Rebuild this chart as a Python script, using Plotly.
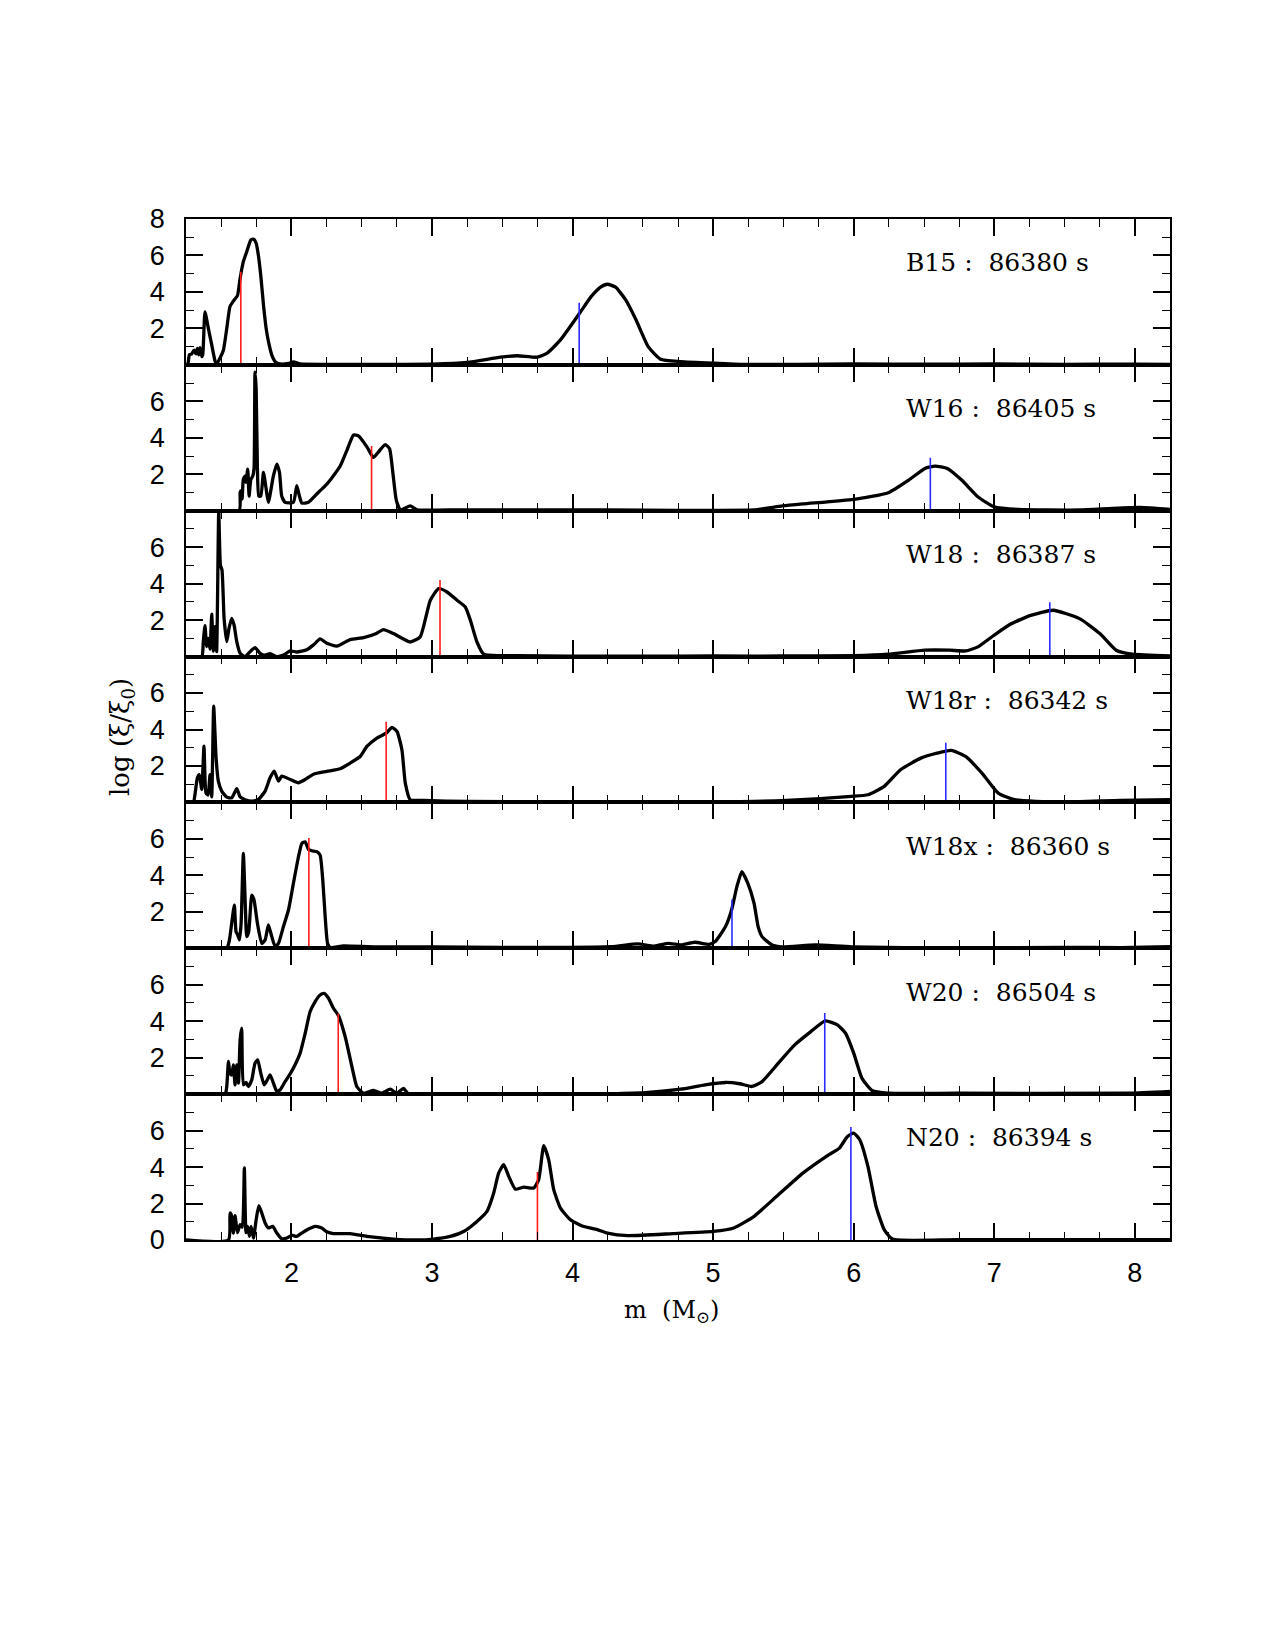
import plotly.graph_objects as go
from plotly.subplots import make_subplots

# ---------------- data ----------------
panel_names = ["B15", "W16", "W18", "W18r", "W18x", "W20", "N20"]
panel_times = ["86380", "86405", "86387", "86342", "86360", "86504", "86394"]

b15_m = [1.25, 1.262, 1.274, 1.290, 1.307, 1.321, 1.331, 1.340, 1.350, 1.362, 1.369, 1.385, 1.409, 1.433, 1.457,
         1.468, 1.492, 1.516, 1.540, 1.563, 1.587, 1.616, 1.635, 1.658, 1.682, 1.711, 1.730, 1.749, 1.765, 1.782,
         1.801, 1.820, 1.836, 1.860, 1.884, 1.920, 1.98, 2.014, 2.062, 2.3, 2.6, 3.0, 3.249, 3.487, 3.606, 3.748,
         3.819, 3.914, 4.05, 4.132, 4.199, 4.248, 4.306, 4.378, 4.451, 4.538, 4.625, 4.769, 5.0, 5.23, 5.6, 6.0,
         6.5, 7.0, 7.5, 8.0, 8.25]
b15_v = [0, 0, 0.55, 0.6, 0.8, 0.6, 0.9, 0.55, 0.95, 0.45, 0.55, 2.9, 2.0, 1.1, 0.2,
         0.05, 0.37, 0.8, 2.0, 3.2, 3.5, 3.8, 4.75, 5.66, 6.2, 6.85, 6.9, 6.67, 6.0, 4.9,
         3.3, 2.0, 1.3, 0.55, 0.18, 0.05, 0.08, 0.16, 0.05, 0.03, 0.02, 0.04, 0.13, 0.42, 0.5, 0.42,
         0.64, 1.37, 2.83, 3.74, 4.26, 4.42, 4.26, 3.56, 2.47, 1.0, 0.31, 0.18, 0.09, 0.02, 0.03, 0.05,
         0.04, 0.05, 0.03, 0.04, 0.03]

w16_m = [1.25, 1.628, 1.635, 1.642, 1.649, 1.658, 1.670, 1.677, 1.689, 1.699, 1.711, 1.725, 1.734, 1.741, 1.749,
         1.758, 1.768, 1.782, 1.801, 1.820, 1.836, 1.872, 1.896, 1.915, 1.931, 1.955, 2.014, 2.038, 2.057, 2.074,
         2.121, 2.157, 2.204, 2.252, 2.299, 2.347, 2.394, 2.442, 2.477, 2.537, 2.584, 2.620, 2.667, 2.698, 2.722,
         2.746, 2.774, 2.810, 2.845, 2.893, 3.2, 3.6, 4.0, 4.5, 5.0, 5.288, 5.493, 5.638, 6.0, 6.246, 6.391,
         6.507, 6.579, 6.666, 6.768, 6.883, 6.998, 7.172, 7.607, 7.839, 8.04, 8.25]
w16_v = [0, 0, 1.0, 1.1, 0.65, 1.73, 1.9, 1.55, 2.28, 0.8, 1.7, 1.9, 2.3, 7.6, 6.7,
         2.3, 0.8, 0.8, 2.1, 1.2, 0.46, 1.92, 2.56, 2.1, 0.8, 0.46, 0.46, 1.37, 0.8, 0.42,
         0.46, 0.73, 1.1, 1.46, 1.92, 2.45, 3.3, 4.15, 4.1, 3.5, 2.92, 3.23, 3.63, 3.4, 2.05,
         0.58, 0.04, 0.15, 0.26, 0.05, 0.05, 0.04, 0.05, 0.03, 0.02, 0.04, 0.26, 0.37, 0.62, 0.99, 1.68,
         2.32, 2.45, 2.32, 1.68, 0.77, 0.22, 0.07, 0.04, 0.13, 0.18, 0.07]

w18_m = [1.25, 1.362, 1.373, 1.385, 1.397, 1.409, 1.421, 1.433, 1.445, 1.457, 1.468, 1.483, 1.495, 1.506, 1.521,
         1.540, 1.556, 1.575, 1.592, 1.611, 1.635, 1.670, 1.706, 1.741, 1.777, 1.813, 1.848, 1.896, 1.943, 1.991,
         2.038, 2.109, 2.157, 2.204, 2.252, 2.323, 2.418, 2.513, 2.60, 2.655, 2.726, 2.845, 2.916, 2.988, 3.047,
         3.107, 3.178, 3.237, 3.273, 3.320, 3.368, 3.486, 3.605, 3.961, 4.5, 5.0, 5.5, 6.0, 6.246, 6.507, 6.681,
         6.796, 6.883, 6.998, 7.114, 7.259, 7.418, 7.607, 7.751, 7.867, 7.983, 8.25]
w18_v = [0, 0, 0.82, 1.7, 0.55, 1.0, 0.4, 2.32, 0.3, 1.64, 0.27, 8.0, 5.0, 4.75, 2.1,
         0.82, 1.55, 2.1, 1.73, 0.82, 0.18, 0.0, 0.27, 0.49, 0.18, 0.08, 0.16, 0.0, 0.08, 0.31,
         0.25, 0.37, 0.64, 0.97, 0.73, 0.57, 0.93, 1.04, 1.25, 1.48, 1.26, 0.8, 1.08, 3.09, 3.73,
         3.54, 3.09, 2.72, 1.99, 0.8, 0.13, 0.05, 0.05, 0.02, 0.02, 0.03, 0.03, 0.05, 0.13, 0.35, 0.35,
         0.31, 0.53, 1.17, 1.77, 2.26, 2.54, 2.08, 1.26, 0.35, 0.13, 0.04]

w18r_m = [1.25, 1.302, 1.314, 1.331, 1.345, 1.362, 1.378, 1.392, 1.407, 1.421, 1.433, 1.447, 1.464, 1.480, 1.504,
          1.540, 1.575, 1.611, 1.635, 1.670, 1.718, 1.765, 1.813, 1.848, 1.877, 1.908, 1.931, 1.991, 2.050, 2.098,
          2.157, 2.252, 2.347, 2.418, 2.489, 2.537, 2.608, 2.674, 2.715, 2.751, 2.786, 2.810, 2.845, 2.940, 3.249,
          4.0, 5.0, 5.522, 5.985, 6.101, 6.217, 6.333, 6.477, 6.593, 6.694, 6.796, 6.912, 7.028, 7.143, 7.461,
          7.896, 8.25]
w18r_v = [0, 0, 0.44, 1.35, 1.53, 0.71, 3.09, 0.53, 0.4, 1.53, 0.3, 5.28, 2.45, 1.17, 0.62,
          0.29, 0.25, 0.75, 0.3, 0.15, 0.07, 0.16, 0.62, 1.35, 1.72, 1.17, 1.44, 1.26, 1.08, 1.26,
          1.55, 1.7, 1.85, 2.16, 2.52, 3.07, 3.53, 3.8, 4.11, 3.89, 2.89, 1.06, 0.15, 0.11, 0.05,
          0.04, 0.03, 0.11, 0.33, 0.42, 0.88, 1.79, 2.43, 2.7, 2.85, 2.52, 1.61, 0.51, 0.15, 0.02,
          0.11, 0.15]

w18x_m = [1.25, 1.540, 1.559, 1.578, 1.594, 1.606, 1.618, 1.630, 1.642, 1.658, 1.673, 1.682, 1.696, 1.718, 1.734,
          1.758, 1.789, 1.813, 1.836, 1.860, 1.884, 1.908, 1.943, 1.979, 2.014, 2.050, 2.074, 2.098, 2.121, 2.145,
          2.181, 2.204, 2.223, 2.240, 2.257, 2.276, 2.371, 2.6, 3.0, 3.5, 3.843, 4.277, 4.465, 4.581, 4.682,
          4.769, 4.870, 4.972, 5.015, 5.088, 5.131, 5.169, 5.204, 5.247, 5.291, 5.320, 5.348, 5.420, 5.493, 5.725,
          5.985, 6.738, 7.5, 7.896, 8.25]
w18x_v = [0, 0, 0.46, 1.55, 2.37, 0.91, 0.73, 0.46, 1.37, 5.2, 2.1, 0.64, 0.9, 2.92, 2.65,
          1.37, 0.27, 0.46, 1.28, 0.64, 0.1, 0.27, 1.19, 2.1, 3.56, 5.02, 5.75, 5.84, 5.42, 5.35,
          5.3, 5.11, 3.74, 1.73, 0.27, 0.05, 0.13, 0.07, 0.08, 0.05, 0.05, 0.09, 0.24, 0.12, 0.27,
          0.18, 0.33, 0.22, 0.37, 1.19, 2.1, 3.38, 4.2, 3.56, 2.47, 1.19, 0.64, 0.18, 0.08, 0.18,
          0.08, 0.02, 0.05, 0.04, 0.09]

w20_m = [1.25, 1.528, 1.540, 1.552, 1.563, 1.575, 1.587, 1.599, 1.611, 1.623, 1.635, 1.646, 1.658, 1.677, 1.694,
         1.718, 1.741, 1.760, 1.782, 1.806, 1.829, 1.848, 1.872, 1.896, 1.920, 1.955, 1.991, 2.026, 2.062, 2.098,
         2.133, 2.169, 2.204, 2.233, 2.264, 2.299, 2.335, 2.382, 2.430, 2.465, 2.513, 2.584, 2.643, 2.703, 2.750,
         2.797, 2.833, 3.009, 3.6, 4.277, 4.538, 4.769, 4.943, 5.088, 5.189, 5.276, 5.348, 5.464, 5.580, 5.695,
         5.797, 5.884, 5.942, 6.0, 6.058, 6.130, 6.246, 6.738, 7.954, 8.25]
w20_v = [0, 0, 0.42, 1.79, 1.15, 1.05, 1.61, 0.5, 1.61, 0.6, 2.98, 3.62, 0.51, 0.64, 0.42,
         0.79, 1.7, 1.88, 1.15, 0.51, 0.79, 1.06, 0.6, 0.15, 0.24, 0.69, 1.11, 1.61, 2.25, 3.34,
         4.53, 5.08, 5.44, 5.53, 5.26, 4.71, 4.3, 3.16, 1.52, 0.42, 0.05, 0.2, 0.05, 0.27, 0.05,
         0.31, 0.02, 0.0, 0.02, 0.02, 0.09, 0.27, 0.51, 0.64, 0.57, 0.42, 0.69, 1.7, 2.7, 3.43,
         4.02, 3.8, 3.34, 2.25, 0.88, 0.2, 0.05, 0.05, 0.05, 0.15]

n20_m = [1.25, 1.552, 1.563, 1.575, 1.587, 1.599, 1.616, 1.635, 1.651, 1.665, 1.677, 1.689, 1.701, 1.713, 1.730,
         1.749, 1.768, 1.789, 1.813, 1.836, 1.867, 1.896, 1.931, 1.967, 2.003, 2.038, 2.074, 2.121, 2.169, 2.216,
         2.252, 2.299, 2.347, 2.418, 2.537, 2.726, 2.893, 3.011, 3.130, 3.225, 3.320, 3.391, 3.439, 3.474, 3.510,
         3.546, 3.593, 3.653, 3.724, 3.759, 3.795, 3.830, 3.866, 3.914, 3.985, 4.074, 4.175, 4.248, 4.393, 4.712,
         5.0, 5.146, 5.291, 5.464, 5.638, 5.811, 5.898, 5.956, 6.0, 6.043, 6.101, 6.159, 6.217, 6.275, 6.738, 8.25]
n20_v = [0, 0, 1.48, 1.3, 0.38, 1.33, 0.4, 0.84, 0.7, 3.95, 0.4, 0.75, 0.2, 0.75, 0.1,
         1.11, 1.88, 1.48, 0.93, 0.66, 0.75, 0.38, 0.07, 0.11, 0.26, 0.2, 0.38, 0.6, 0.75, 0.66,
         0.45, 0.35, 0.35, 0.35, 0.2, 0.05, 0.0, 0.05, 0.2, 0.47, 1.02, 1.57, 2.58, 3.67, 4.13,
         3.49, 2.79, 2.9, 2.85, 3.31, 5.17, 4.4, 2.76, 1.75, 1.11, 0.75, 0.57, 0.38, 0.24, 0.35,
         0.47, 0.66, 1.3, 2.48, 3.67, 4.62, 5.04, 5.68, 5.86, 5.5, 4.04, 1.84, 0.57, 0.05, 0.02, 0.02]

curves_m = [b15_m, w16_m, w18_m, w18r_m, w18x_m, w20_m, n20_m]
curves_v = [b15_v, w16_v, w18_v, w18r_v, w18x_v, w20_v, n20_v]

red_m = [1.64, 2.57, 3.057, 2.674, 2.124, 2.333, 3.75]
red_h = [5.1, 3.55, 4.2, 4.43, 6.05, 4.43, 3.73]
blue_m = [4.047, 6.545, 7.395, 6.655, 5.134, 5.794, 5.98]
blue_h = [3.4, 2.9, 2.98, 3.27, 2.67, 4.45, 6.2]

x_ticks = [2, 3, 4, 5, 6, 7, 8]
y_ticks_per_panel = [[2, 4, 6, 8], [2, 4, 6], [2, 4, 6], [2, 4, 6], [2, 4, 6], [2, 4, 6], [0, 2, 4, 6]]
y_minor = [1, 3, 5, 7]

# ---------------- figure ----------------
n = len(panel_names)
fig = make_subplots(rows=n, cols=1, shared_xaxes=True, vertical_spacing=0)

for i in range(n):
    r = i + 1
    fig.add_trace(go.Scatter(x=curves_m[i], y=curves_v[i], mode="lines",
                             line=dict(color="black", width=3.3, shape="spline", smoothing=0.5),
                             hoverinfo="skip"), row=r, col=1)
    fig.add_trace(go.Scatter(x=[red_m[i], red_m[i]], y=[0, red_h[i]], mode="lines",
                             line=dict(color="#ff1a1a", width=1.6), hoverinfo="skip"), row=r, col=1)
    fig.add_trace(go.Scatter(x=[blue_m[i], blue_m[i]], y=[0, blue_h[i]], mode="lines",
                             line=dict(color="#2a2aff", width=1.6), hoverinfo="skip"), row=r, col=1)

tick_font = dict(family="Liberation Sans, Arial, sans-serif", size=27, color="black")
serif = "DejaVu Serif, serif"
nb = "\u00a0"

for i in range(n):
    r = i + 1
    fig.update_xaxes(row=r, col=1, range=[1.25, 8.25], showline=True, linecolor="black", linewidth=1.7,
                     mirror="allticks", ticks="inside", ticklen=17, tickwidth=1.6, tickcolor="black",
                     tickmode="array", tickvals=x_ticks, showgrid=False, zeroline=False,
                     showticklabels=(r == n), tickfont=tick_font, ticklabelstandoff=8,
                     minor=dict(ticks="inside", ticklen=8, tickwidth=1.4, tickcolor="black",
                                dtick=0.25, tick0=0, showgrid=False))
    fig.update_yaxes(row=r, col=1, range=[0, 8], showline=True, linecolor="black", linewidth=1.7,
                     mirror="allticks", ticks="inside", ticklen=17, tickwidth=1.6, tickcolor="black",
                     tickmode="array", tickvals=y_ticks_per_panel[i], showgrid=False, zeroline=False,
                     tickfont=tick_font, ticklabelstandoff=14,
                     minor=dict(ticks="inside", ticklen=8, tickwidth=1.4, tickcolor="black",
                                tickmode="array", tickvals=y_minor, showgrid=False))
    xref = "x" if r == 1 else f"x{r}"
    yref = "y" if r == 1 else f"y{r}"
    fig.add_annotation(x=6.36, y=5.6, xref=xref, yref=yref, xanchor="left", yanchor="middle",
                       text=f"{panel_names[i]}{nb}:{nb}{nb}{panel_times[i]}{nb}s", showarrow=False,
                       font=dict(family=serif, size=25, color="black"))

fig.add_annotation(x=0.4934, y=-0.070, xref="paper", yref="paper", xanchor="center", yanchor="middle",
                   text=f"m{nb}{nb}(M<sub>\u2299</sub>)", showarrow=False,
                   font=dict(family=serif, size=24, color="black"))
fig.add_annotation(x=-0.065, y=0.4927, xref="paper", yref="paper", xanchor="center", yanchor="middle",
                   text=f"log{nb}(\u03be/\u03be<sub>0</sub>)", textangle=-90, showarrow=False,
                   font=dict(family=serif, size=26, color="black"))

fig.update_layout(width=1275, height=1650, margin=dict(l=186, r=105, t=219, b=410),
                  plot_bgcolor="white", paper_bgcolor="white", showlegend=False)

fig.write_html("out.html")
